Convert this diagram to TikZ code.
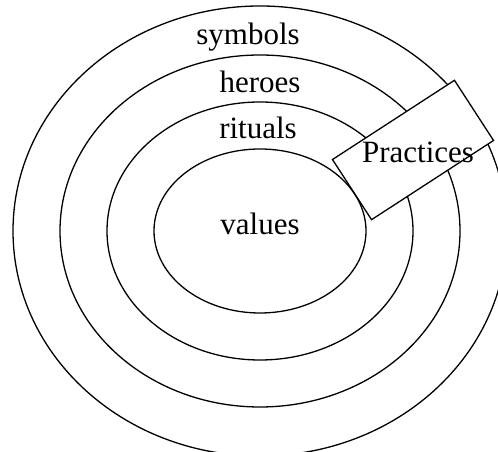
\documentclass[tikz,border=0pt]{standalone}
\usepackage{fontspec}
\setmainfont{Liberation Serif}
\begin{document}
\begin{tikzpicture}[x=1bp,y=1bp,
    ring/.style={line width=1.3bp},
    lbl/.style={font=\fontsize{31bp}{36bp}\selectfont, inner sep=0pt, anchor=base}]
        \useasboundingbox (0,0) rectangle (498,452);
        \clip (0,0) rectangle (498,452);
        \coordinate (c) at (260,221);
        \draw[ring] (c) ellipse [x radius=247, y radius=225];
        \draw[ring] (c) ellipse [x radius=200, y radius=176];
        \draw[ring] (c) ellipse [x radius=153, y radius=129];
        \draw[ring] (c) ellipse [x radius=106, y radius=82];
        \node[draw, fill=white, line width=1.3bp, rotate=33, minimum width=146, minimum height=72, inner sep=0pt] (box) at (413,302) {};
        \node[lbl] (symbols) at (248,407) {symbols};
        \node[lbl] (heroes) at (260,359) {heroes};
        \node[lbl] (rituals) at (258,313) {rituals};
        \node[lbl] (values) at (260,217) {values};
        \node[lbl] (practices) at (418,289) {Practices};
    \end{tikzpicture}
\end{document}
